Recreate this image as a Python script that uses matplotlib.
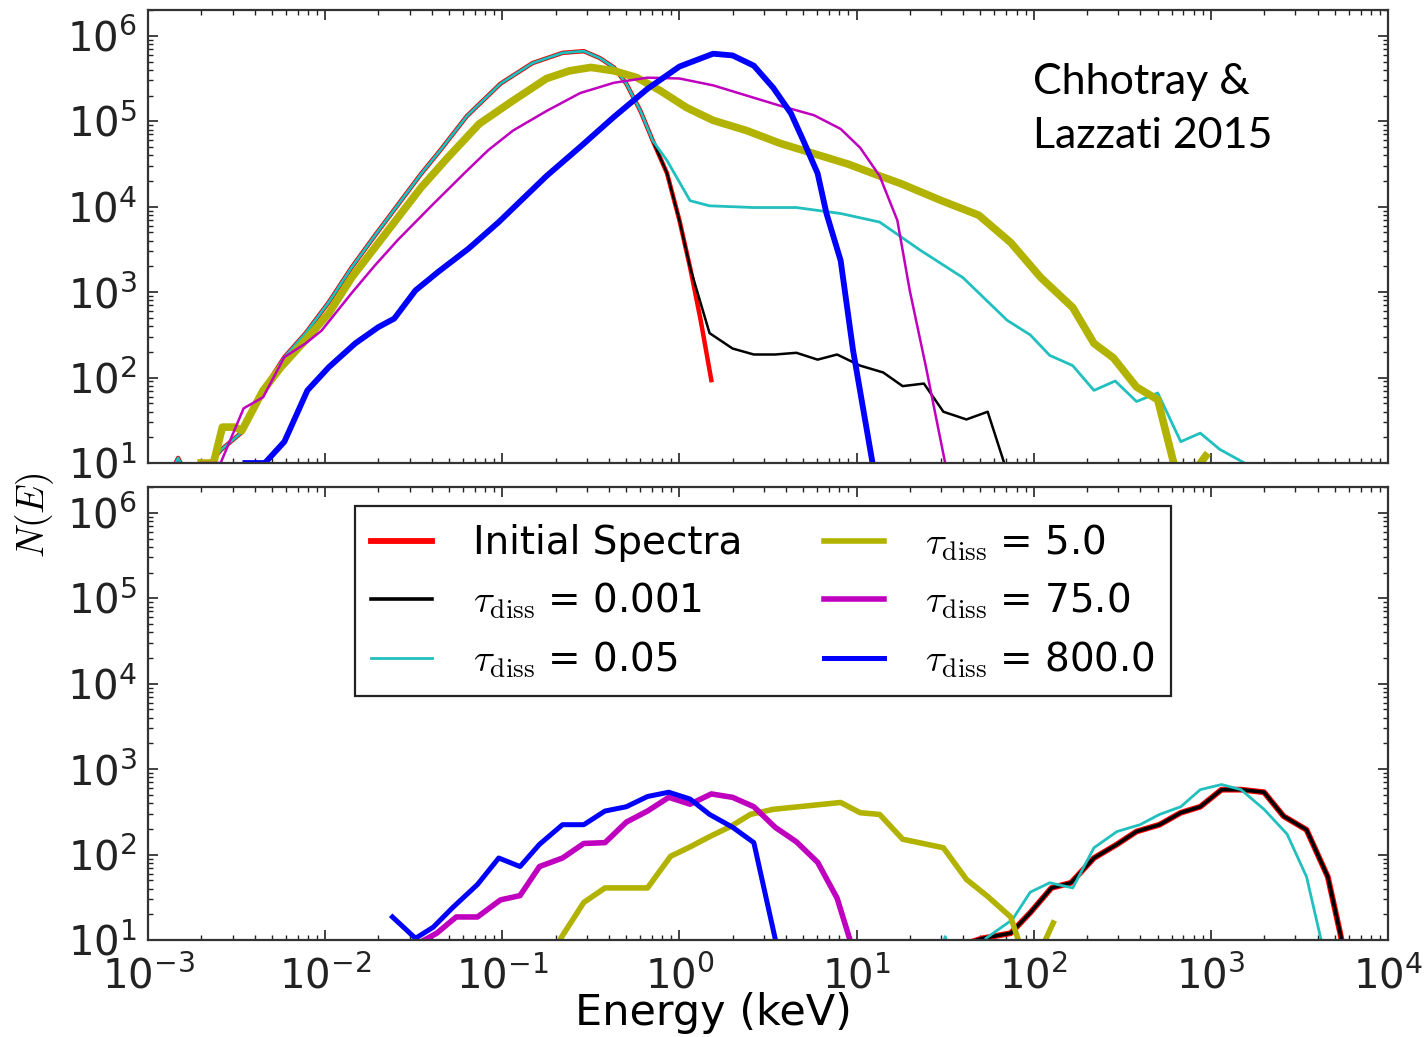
import numpy as np
import matplotlib
matplotlib.use('Agg')
import matplotlib.pyplot as plt
from matplotlib.ticker import LogLocator, NullFormatter
from matplotlib.font_manager import FontProperties

plt.rcParams['font.family'] = ['DejaVu Sans']
plt.rcParams['mathtext.default'] = 'regular'
plt.rcParams['axes.unicode_minus'] = False

# ---------------- data (log10 E [keV], log10 N(E)) ----------------
# top panel: shared low-energy part of initial / tau=0.001 / tau=0.05
top_start_logE = [-2.88, -2.83, -2.77]
top_start_logN = [0.85, 1.06, 0.80]
top_shared_logE = [-2.68, -2.59, -2.47, -2.35, -2.23, -2.11, -1.98, -1.85, -1.72, -1.59,
                   -1.46, -1.35, -1.20, -1.01, -0.83, -0.66, -0.54, -0.45, -0.37, -0.30,
                   -0.22, -0.15]
top_shared_logN = [0.92, 1.15, 1.36, 1.85, 2.24, 2.52, 2.88, 3.29, 3.66, 4.02,
                   4.38, 4.66, 5.06, 5.44, 5.68, 5.80, 5.82, 5.74, 5.63, 5.44,
                   5.12, 4.77]

top_init_tail_logE = [-0.07, 0.00, 0.06, 0.12, 0.18]
top_init_tail_logN = [4.39, 3.84, 3.29, 2.67, 1.97]

top_t0001_tail_logE = [-0.07, 0.00, 0.06, 0.17, 0.30, 0.42, 0.54, 0.66, 0.78, 0.89,
                       1.02, 1.15, 1.26, 1.38, 1.49, 1.62, 1.74, 1.90]
top_t0001_tail_logN = [4.39, 3.84, 3.29, 2.52, 2.34, 2.27, 2.27, 2.29, 2.21, 2.27,
                       2.14, 2.06, 1.90, 1.93, 1.60, 1.51, 1.60, 0.57]

top_t005_tail_logE = [-0.07, 0.06, 0.17, 0.42, 0.66, 0.91, 1.13, 1.36, 1.60, 1.85,
                      1.98, 2.09, 2.22, 2.34, 2.46, 2.58, 2.70, 2.83, 2.94, 3.05,
                      3.19, 3.28]
top_t005_tail_logN = [4.54, 4.07, 4.01, 3.99, 3.99, 3.92, 3.82, 3.49, 3.17, 2.67,
                      2.50, 2.26, 2.14, 1.85, 1.96, 1.72, 1.82, 1.25, 1.35, 1.16,
                      1.00, 0.80]

top_t5_logE = [-2.70, -2.63, -2.58, -2.51, -2.47, -2.35, -2.25, -2.11, -1.98, -1.85,
               -1.72, -1.59, -1.46, -1.31, -1.13, -0.94, -0.75, -0.62, -0.50, -0.37,
               -0.24, -0.11, 0.04, 0.19, 0.38, 0.57, 0.76, 0.95, 1.13, 1.25,
               1.48, 1.69, 1.87, 2.04, 2.22, 2.34, 2.45, 2.58, 2.70, 2.79,
               2.85, 2.97]
top_t5_logN = [1.00, 1.00, 1.42, 1.42, 1.38, 1.85, 2.12, 2.44, 2.75, 3.17,
               3.52, 3.87, 4.22, 4.57, 4.97, 5.24, 5.50, 5.59, 5.63, 5.59,
               5.51, 5.36, 5.16, 5.01, 4.89, 4.74, 4.62, 4.50, 4.36, 4.27,
               4.07, 3.90, 3.58, 3.17, 2.82, 2.40, 2.23, 1.89, 1.74, 1.00,
               0.75, 1.08]

top_t75_logE = [-2.70, -2.59, -2.46, -2.35, -2.23, -2.11, -2.02, -1.85, -1.72, -1.59,
                -1.40, -1.21, -1.08, -0.94, -0.75, -0.56, -0.37, -0.18, 0.00, 0.19,
                0.38, 0.57, 0.76, 0.91, 1.02, 1.13, 1.23, 1.30, 1.39, 1.50, 1.56]
top_t75_logN = [1.00, 1.00, 1.64, 1.77, 2.24, 2.40, 2.55, 2.99, 3.31, 3.61,
                4.01, 4.40, 4.66, 4.89, 5.12, 5.33, 5.45, 5.51, 5.50, 5.42,
                5.30, 5.18, 5.07, 4.91, 4.69, 4.36, 3.84, 3.02, 2.14, 1.00, 0.33]

top_t800_logE = [-2.45, -2.34, -2.23, -2.10, -1.98, -1.83, -1.70, -1.61, -1.49, -1.36,
                 -1.19, -1.02, -0.85, -0.75, -0.56, -0.37, -0.18, 0.00, 0.19, 0.30,
                 0.42, 0.53, 0.63, 0.70, 0.78, 0.83, 0.91, 0.98, 1.09, 1.13]
top_t800_logN = [1.00, 1.00, 1.25, 1.85, 2.12, 2.40, 2.59, 2.69, 3.02, 3.24,
                 3.51, 3.82, 4.16, 4.36, 4.70, 5.05, 5.38, 5.64, 5.79, 5.77,
                 5.65, 5.39, 5.09, 4.77, 4.39, 3.92, 3.37, 2.32, 1.00, 0.57]

# bottom panel
bot_init_logE = [1.59, 1.71, 1.87, 1.98, 2.10, 2.21, 2.34, 2.47, 2.58, 2.71,
                 2.83, 2.94, 3.06, 3.17, 3.30, 3.41, 3.54, 3.66, 3.73, 3.76]
bot_init_logN = [0.94, 1.02, 1.08, 1.32, 1.61, 1.67, 1.96, 2.12, 2.27, 2.35,
                 2.49, 2.56, 2.76, 2.76, 2.73, 2.45, 2.29, 1.74, 1.08, 0.76]
bot_t0001_logE = [1.59, 1.71, 1.87, 1.98, 2.10, 2.21, 2.34, 2.47, 2.58, 2.71,
                  2.83, 2.94, 3.06, 3.17, 3.30, 3.41, 3.54, 3.66, 3.73, 3.76]
bot_t0001_logN = [0.94, 1.02, 1.08, 1.32, 1.61, 1.67, 1.96, 2.12, 2.27, 2.35,
                  2.49, 2.56, 2.76, 2.76, 2.73, 2.45, 2.29, 1.74, 1.08, 0.76]
bot_t005_logE = [1.47, 1.50, 1.54, 1.69, 1.73, 1.88, 1.98, 2.09, 2.22, 2.34,
                 2.47, 2.60, 2.71, 2.83, 2.94, 3.06, 3.17, 3.30, 3.43, 3.54,
                 3.62, 3.64]
bot_t005_logN = [0.82, 1.04, 0.82, 0.76, 1.02, 1.24, 1.56, 1.67, 1.61, 2.08,
                 2.27, 2.35, 2.47, 2.56, 2.76, 2.82, 2.76, 2.53, 2.24, 1.74,
                 1.02, 0.76]
bot_t5_logE = [-0.70, -0.67, -0.54, -0.42, -0.18, -0.05, 0.06, 0.17, 0.29, 0.40,
               0.53, 0.72, 0.91, 1.02, 1.13, 1.26, 1.49, 1.62, 1.74, 1.87,
               1.91, 1.98, 2.07, 2.11]
bot_t5_logN = [0.76, 1.02, 1.44, 1.61, 1.61, 1.98, 2.09, 2.21, 2.33, 2.47,
               2.53, 2.57, 2.61, 2.49, 2.47, 2.18, 2.08, 1.71, 1.51, 1.27,
               1.02, 0.59, 1.02, 1.20]
bot_t75_logE = [-1.52, -1.37, -1.26, -1.14, -1.01, -0.90, -0.79, -0.66, -0.54, -0.42,
                -0.30, -0.18, -0.06, 0.06, 0.18, 0.30, 0.42, 0.54, 0.66, 0.78,
                0.89, 0.96, 0.99]
bot_t75_logN = [0.91, 1.08, 1.27, 1.27, 1.47, 1.52, 1.86, 1.96, 2.13, 2.14,
                2.38, 2.51, 2.67, 2.59, 2.71, 2.67, 2.56, 2.32, 2.15, 1.91,
                1.49, 1.02, 0.76]
bot_t800_logE = [-1.62, -1.49, -1.39, -1.28, -1.14, -1.02, -0.90, -0.79, -0.66, -0.54,
                 -0.42, -0.30, -0.18, -0.06, 0.06, 0.17, 0.30, 0.42, 0.54, 0.57]
bot_t800_logN = [1.27, 1.02, 1.15, 1.38, 1.65, 1.96, 1.86, 2.12, 2.35, 2.35,
                 2.51, 2.56, 2.68, 2.73, 2.65, 2.47, 2.32, 2.14, 1.02, 0.76]

TAU = r'$\mathit{\tau}_{\mathrm{diss}}$'
labels = ['Initial Spectra', TAU + ' = 0.001', TAU + ' = 0.05',
          TAU + ' = 5.0', TAU + ' = 75.0', TAU + ' = 800.0']
colors = ['#ff0000', '#000000', '#22bfbf', '#b2b200', '#bf00bf', '#0000ff']
top_lw = [3.2, 1.8, 2.0, 5.5, 1.8, 4.2]
bot_lw = [4.2, 2.6, 2.0, 4.0, 4.0, 3.6]

top_series = [
    (top_start_logE + top_shared_logE + top_init_tail_logE,
     top_start_logN + top_shared_logN + top_init_tail_logN),
    (top_start_logE + top_shared_logE + top_t0001_tail_logE,
     top_start_logN + top_shared_logN + top_t0001_tail_logN),
    (top_start_logE + top_shared_logE + top_t005_tail_logE,
     top_start_logN + top_shared_logN + top_t005_tail_logN),
    (top_t5_logE, top_t5_logN),
    (top_t75_logE, top_t75_logN),
    (top_t800_logE, top_t800_logN),
]
bot_series = [
    (bot_init_logE, bot_init_logN),
    (bot_t0001_logE, bot_t0001_logN),
    (bot_t005_logE, bot_t005_logN),
    (bot_t5_logE, bot_t5_logN),
    (bot_t75_logE, bot_t75_logN),
    (bot_t800_logE, bot_t800_logN),
]

fig = plt.figure(figsize=(14.27, 10.37), dpi=100)
ax1 = fig.add_axes([0.1037, 0.5535, 0.8690, 0.4368])
ax2 = fig.add_axes([0.1037, 0.0935, 0.8690, 0.4368])

for (lx, ly), c, lw in zip(top_series, colors, top_lw):
    ax1.plot(10 ** np.array(lx), 10 ** np.array(ly), color=c, lw=lw,
             solid_joinstyle='round')

handles = []
for (lx, ly), c, lw, lab in zip(bot_series, colors, bot_lw, labels):
    h, = ax2.plot(10 ** np.array(lx), 10 ** np.array(ly), color=c, lw=lw,
                  solid_joinstyle='round', label=lab)
    handles.append(h)

for ax in (ax1, ax2):
    ax.set_xscale('log')
    ax.set_yscale('log')
    ax.set_xlim(1e-3, 1e4)
    ax.set_ylim(10, 2e6)
    ax.xaxis.set_major_locator(LogLocator(base=10, numticks=20))
    ax.yaxis.set_major_locator(LogLocator(base=10, numticks=20))
    ax.xaxis.set_minor_locator(LogLocator(base=10, subs=np.arange(2, 10), numticks=200))
    ax.yaxis.set_minor_locator(LogLocator(base=10, subs=np.arange(2, 10), numticks=200))
    ax.xaxis.set_minor_formatter(NullFormatter())
    ax.yaxis.set_minor_formatter(NullFormatter())
    ax.tick_params(which='both', direction='in', top=True, right=True,
                   labelsize=29, colors='#222222')
    ax.tick_params(which='major', length=7, width=1.2, pad=8)
    ax.tick_params(which='minor', length=3.5, width=1.0)
    for s in ax.spines.values():
        s.set_linewidth(1.6)
        s.set_color('#333333')

ax1.tick_params(axis='x', which='both', labelbottom=False)
ax2.tick_params(axis='x', pad=12)

legprop = FontProperties(family='DejaVu Sans', size=28, math_fontfamily='cm')
leg = ax2.legend(handles=handles, loc='upper left', bbox_to_anchor=(0.167, 0.958),
                 ncol=2, prop=legprop, frameon=True, fancybox=False,
                 handlelength=1.55, handletextpad=1.05, columnspacing=2.1,
                 labelspacing=0.47, borderpad=0.42, borderaxespad=0.0)
leg.get_frame().set_edgecolor('#222222')
leg.get_frame().set_linewidth(1.6)
leg.get_frame().set_alpha(1)

fig.text(0.5, 0.023, 'Energy (keV)', fontsize=31, ha='center', va='center')
fig.text(0.0245, 0.503, r'$\mathit{N}\mathrm{(}\mathit{E}\mathrm{)}$', rotation=90,
         fontsize=27, math_fontfamily='cm', ha='center', va='center')
fig.text(1033 / 1427, 1 - 63 / 1037, 'Chhotray &\nLazzati 2015', fontsize=31,
         family='Lato', ha='left', va='top', linespacing=1.52)

fig.savefig('out.png', dpi=100)
